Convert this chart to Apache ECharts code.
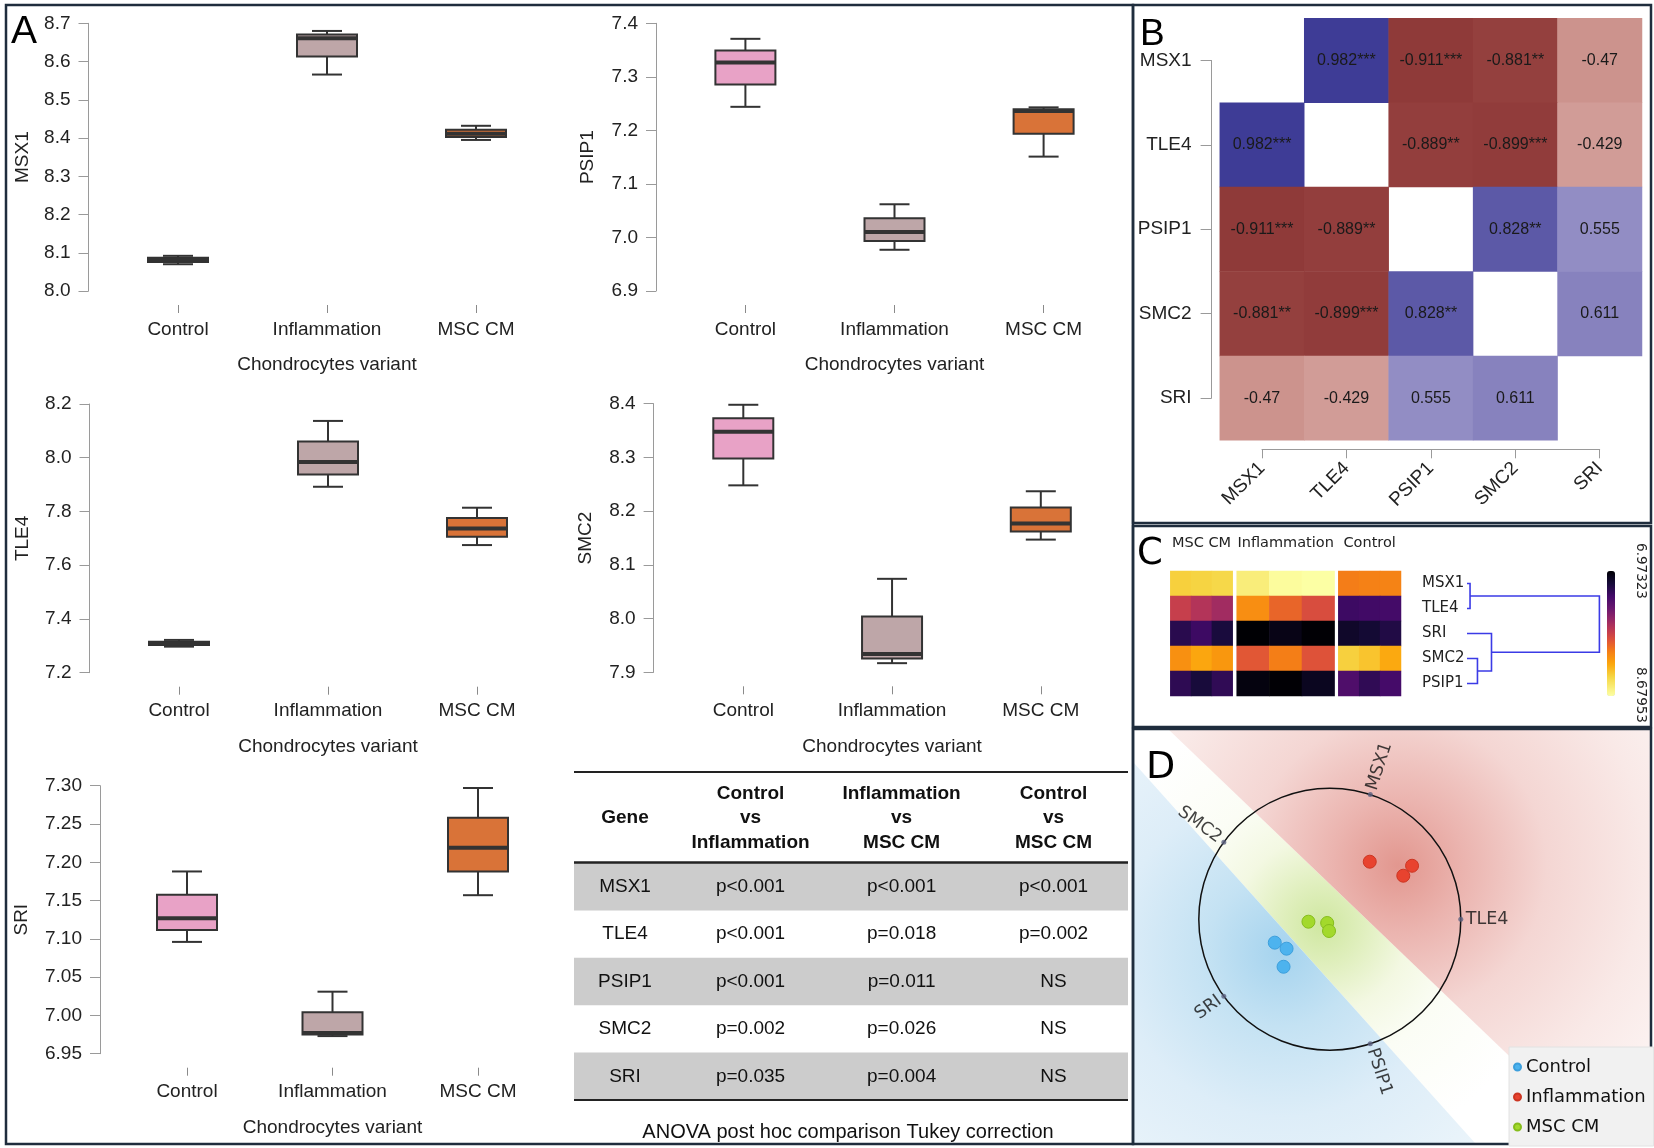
<!DOCTYPE html>
<html><head><meta charset="utf-8">
<script src="https://cdn.jsdelivr.net/npm/echarts@6/dist/echarts.min.js"></script>
<style>html,body{margin:0;padding:0;background:#fff}#c{width:1654px;height:1148px}</style>
</head><body><div id="c"></div>
<script>
// ---------------- DATA ----------------
const groups = ['Control', 'Inflammation', 'MSC CM'];
const genes = ['MSX1', 'TLE4', 'PSIP1', 'SMC2', 'SRI'];
// replicate expression values per gene: [Control, Inflammation, MSC CM] (panel C column order)
const MSX1 = [[8.070, 8.082, 8.092], [8.566, 8.661, 8.680], [8.395, 8.411, 8.432]];
const TLE4 = [[7.297, 7.309, 7.322], [8.137, 7.984, 7.892], [7.814, 7.737, 7.675]];
const PSIP1 = [[7.371, 7.244, 7.327], [7.010, 6.977, 7.062], [7.236, 7.151, 7.243]];
const SMC2 = [[8.398, 8.348, 8.248], [7.934, 8.074, 7.917], [8.147, 8.237, 8.177]];
const SRI = [[7.096, 7.127, 7.188], [6.973, 7.031, 6.977], [7.219, 7.297, 7.157]];
const expr = [MSX1, TLE4, PSIP1, SMC2, SRI];

// panel B: Pearson correlations
const corr = [
  [1, 0.982, -0.911, -0.881, -0.47],
  [0.982, 1, -0.889, -0.899, -0.429],
  [-0.911, -0.889, 1, 0.828, 0.555],
  [-0.881, -0.899, 0.828, 1, 0.611],
  [-0.47, -0.429, 0.555, 0.611, 1]
];
const corrStars = [
  ['', '***', '***', '**', ''],
  ['***', '', '**', '***', ''],
  ['***', '**', '', '**', ''],
  ['**', '***', '**', '', ''],
  ['', '', '', '', '']
];

// panel C: heatmap + dendrogram
const groupsC = ['MSC CM', 'Inflammation', 'Control'];
const dendroLeaves = ['MSX1', 'TLE4', 'SRI', 'SMC2', 'PSIP1'];
const dendroMerges = [[0, 1, 0.023], [3, 4, 0.079], [2, 6, 0.185], [5, 7, 1.0]];
const colorbarLabels = ['6.97323', '8.67953'];

// panel D: RadViz
const anchorAngles = [72, 0, 288, 144, 216]; // MSX1, TLE4, PSIP1, SMC2, SRI (degrees)
const radvizControl = [[-0.420, -0.179], [-0.330, -0.225], [-0.353, -0.363]];
const radvizInflammation = [[0.305, 0.439], [0.628, 0.408], [0.561, 0.332]];
const radvizMscCm = [[-0.163, -0.019], [-0.020, -0.029], [-0.006, -0.090]];

// table
const tableHeaders = ['Gene', 'Control\nvs\nInflammation', 'Inflammation\nvs\nMSC CM', 'Control\nvs\nMSC CM'];
const pControlInfl = ['p<0.001', 'p<0.001', 'p<0.001', 'p=0.002', 'p=0.035'];
const pInflMsc = ['p<0.001', 'p=0.018', 'p=0.011', 'p=0.026', 'p=0.004'];
const pControlMsc = ['p<0.001', 'p=0.002', 'NS', 'NS', 'NS'];
const tableCaption = 'ANOVA post hoc comparison Tukey correction';

// ---------------- STYLE / LAYOUT ----------------
const FA = 'Liberation Sans, Arial, sans-serif';
const FC = 'DejaVu Sans, Verdana, sans-serif';
const boxColors = ['#E8A2C6', '#BEA6A8', '#D97338'];
const inferno = ['#000004', '#160b39', '#420a68', '#6a176e', '#932667', '#bc3754', '#dd513a', '#f37819', '#fca50a', '#f6d746', '#fcffa4'];
// colour ramp used by the figure (inferno, slightly lifted in the upper half)
const rampWarp = [[0, 0], [0.3, 0.3], [0.65, 0.72], [0.85, 0.9], [1, 1]];
function warp(t) {
  for (let i = 1; i < rampWarp.length; i++) {
    const [a0, b0] = rampWarp[i - 1], [a1, b1] = rampWarp[i];
    if (t <= a1) return b0 + (t - a0) / (a1 - a0) * (b1 - b0);
  }
  return 1;
}
function hexRgb(h) { return [1, 3, 5].map(k => parseInt(h.slice(k, k + 2), 16)); }
function infernoAt(t) {
  const p = t * (inferno.length - 1), i = Math.min(Math.floor(p), inferno.length - 2), f = p - i;
  const a = hexRgb(inferno[i]), b = hexRgb(inferno[i + 1]);
  return 'rgb(' + a.map((v, k) => Math.round(v + (b[k] - v) * f)).join(',') + ')';
}
const cRamp = Array.from({ length: 41 }, (_, i) => infernoAt(warp(i / 40)));

const boxLayout = [
  { gene: 'MSX1', left: 178, right: 476, top: 23.3, bottom: 291, min: 8.0, max: 8.7, interval: 0.1, dec: 1, axisX: 88.5, nameX: 22.4 },
  { gene: 'PSIP1', left: 745.4, right: 1043.6, top: 23.3, bottom: 291, min: 6.9, max: 7.4, interval: 0.1, dec: 1, axisX: 656, nameX: 588 },
  { gene: 'TLE4', left: 179, right: 477, top: 404, bottom: 672.7, min: 7.2, max: 8.2, interval: 0.2, dec: 1, axisX: 89.5, nameX: 22.4 },
  { gene: 'SMC2', left: 743.3, right: 1040.8, top: 403.7, bottom: 672.3, min: 7.9, max: 8.4, interval: 0.1, dec: 1, axisX: 653.6, nameX: 586 },
  { gene: 'SRI', left: 187, right: 478, top: 785.7, bottom: 1053.7, min: 6.95, max: 7.30, interval: 0.05, dec: 2, axisX: 100, nameX: 22 }
];

function quantile(sorted, p) {
  const h = (sorted.length - 1) * p, lo = Math.floor(h), hi = Math.min(lo + 1, sorted.length - 1);
  return sorted[lo] + (h - lo) * (sorted[hi] - sorted[lo]);
}
function summary(arr) {
  const s = arr.slice().sort((a, b) => a - b);
  return [s[0], quantile(s, 0.25), quantile(s, 0.5), quantile(s, 0.75), s[s.length - 1]];
}
function renderBox(params, api) {
  const ci = api.value(0);
  const pMin = api.coord([ci, api.value(1)]), pQ1 = api.coord([ci, api.value(2)]);
  const pMed = api.coord([ci, api.value(3)]), pQ3 = api.coord([ci, api.value(4)]);
  const pMax = api.coord([ci, api.value(5)]);
  const cx = pMin[0], bw = 60, cw = 30, st = '#333';
  const ls = { stroke: st, lineWidth: 2 };
  return {
    type: 'group', children: [
      { type: 'line', shape: { x1: cx, y1: pMax[1], x2: cx, y2: pQ3[1] }, style: ls },
      { type: 'line', shape: { x1: cx, y1: pQ1[1], x2: cx, y2: pMin[1] }, style: ls },
      { type: 'line', shape: { x1: cx - cw / 2, y1: pMax[1], x2: cx + cw / 2, y2: pMax[1] }, style: ls },
      { type: 'line', shape: { x1: cx - cw / 2, y1: pMin[1], x2: cx + cw / 2, y2: pMin[1] }, style: ls },
      { type: 'rect', shape: { x: cx - bw / 2, y: pQ3[1], width: bw, height: pQ1[1] - pQ3[1] }, style: { fill: boxColors[ci], stroke: st, lineWidth: 2 } },
      { type: 'line', shape: { x1: cx - bw / 2, y1: pMed[1], x2: cx + bw / 2, y2: pMed[1] }, style: { stroke: st, lineWidth: 4 } }
    ]
  };
}

const grids = [], xAxes = [], yAxes = [], series = [];
function addGrid(g) { grids.push(Object.assign({ containLabel: false, outerBoundsMode: 'none' }, g)); return grids.length - 1; }

// ---- Panel A box plots ----
boxLayout.forEach(L => {
  const gi = addGrid({ left: L.left, top: L.top, width: L.right - L.left, height: L.bottom - L.top });
  const xi = xAxes.length, yi = yAxes.length;
  xAxes.push({
    gridIndex: gi, type: 'category', data: groups, boundaryGap: false, offset: 14,
    axisLine: { show: false }, axisTick: { show: true, interval: 0, length: 8, lineStyle: { color: '#8a8a8a' } },
    axisLabel: { interval: 0, fontSize: 19, color: '#222', margin: 15, fontFamily: FA },
    splitLine: { show: false }, name: 'Chondrocytes variant', nameLocation: 'middle', nameGap: 50.5,
    nameTextStyle: { fontSize: 19, color: '#222', fontFamily: FA }
  });
  yAxes.push({
    gridIndex: gi, type: 'value', min: L.min, max: L.max, interval: L.interval, offset: L.left - L.axisX,
    axisLine: { show: true, lineStyle: { color: '#9a9a9a', width: 1 } },
    axisTick: { show: true, length: 10, lineStyle: { color: '#9a9a9a' } },
    axisLabel: { fontSize: 19, color: '#222', margin: 18, fontFamily: FA, formatter: v => v.toFixed(L.dec) },
    splitLine: { show: false }, name: L.gene, nameLocation: 'middle', nameGap: L.axisX - L.nameX - 9.5,
    nameTextStyle: { fontSize: 19, color: '#222', fontFamily: FA }
  });
  const vals = expr[genes.indexOf(L.gene)];
  series.push({
    type: 'custom', xAxisIndex: xi, yAxisIndex: yi, renderItem: renderBox, z: 3,
    encode: { x: 0, y: [1, 2, 3, 4, 5] },
    data: vals.map((arr, ci) => [ci].concat(summary(arr)))
  });
});

// ---- Panel B correlation heatmap ----
let gi = addGrid({ left: 1219.8, top: 18.3, width: 422.2, height: 422 });
let xi = xAxes.length, yi = yAxes.length;
xAxes.push({ gridIndex: gi, type: 'category', data: genes, show: false });
yAxes.push({ gridIndex: gi, type: 'category', data: genes, inverse: true, show: false });
const heatB = [];
corr.forEach((row, i) => row.forEach((v, j) => { if (i !== j) heatB.push([j, i, v]); }));
const bHeatIdx = series.length;
series.push({
  type: 'heatmap', xAxisIndex: xi, yAxisIndex: yi, data: heatB, emphasis: { disabled: true },
  label: { show: true, fontSize: 16, color: '#1a1a1a', fontFamily: FA, formatter: p => String(p.value[2]) + corrStars[p.value[1]][p.value[0]] }
});
// y axis only (center-to-center bracket)
gi = addGrid({ left: 1211.6, top: 60.5, width: 1, height: 337.5 });
xAxes.push({ gridIndex: gi, type: 'value', show: false });
yAxes.push({
  gridIndex: gi, type: 'category', data: genes, inverse: true, boundaryGap: false,
  axisLine: { show: true, lineStyle: { color: '#9a9a9a' } }, axisTick: { show: true, interval: 0, length: 11, lineStyle: { color: '#9a9a9a' } },
  axisLabel: { interval: 0, fontSize: 19, color: '#222', margin: 20, fontFamily: FA }, splitLine: { show: false }
});
// x axis only
gi = addGrid({ left: 1262, top: 420, width: 337.7, height: 29.3 });
xAxes.push({
  gridIndex: gi, type: 'category', data: genes, boundaryGap: false,
  axisLine: { show: true, lineStyle: { color: '#9a9a9a' } }, axisTick: { show: true, interval: 0, length: 9, lineStyle: { color: '#9a9a9a' } },
  axisLabel: { interval: 0, rotate: 45, fontSize: 19, color: '#222', margin: 16, fontFamily: FA }, splitLine: { show: false }
});
yAxes.push({ gridIndex: gi, type: 'value', show: false });

// ---- Panel C expression heatmap ----
const groupCRect = [{ left: 1170.3, width: 62.4 }, { left: 1236.7, width: 97.9 }, { left: 1338.3, width: 62.7 }];
const cHeatIdx = [];
groupsC.forEach((g, k) => {
  const gg = addGrid({ left: groupCRect[k].left, width: groupCRect[k].width, top: 571, height: 125 });
  const xk = xAxes.length, yk = yAxes.length;
  xAxes.push({
    gridIndex: gg, type: 'category', data: ['1', '2', '3'], position: 'top',
    axisLine: { show: false }, axisTick: { show: false }, axisLabel: { show: false }, splitLine: { show: false },
    name: g, nameLocation: 'middle', nameGap: 20, nameTextStyle: { fontSize: 14.5, color: '#222', fontFamily: FC }
  });
  yAxes.push({ gridIndex: gg, type: 'category', data: dendroLeaves, inverse: true, show: false });
  const gIdx = groups.indexOf(g);
  const data = [];
  dendroLeaves.forEach((leaf, r) => {
    expr[genes.indexOf(leaf)][gIdx].forEach((v, c) => data.push([c, r, v]));
  });
  cHeatIdx.push(series.length);
  series.push({ type: 'heatmap', xAxisIndex: xk, yAxisIndex: yk, data, emphasis: { disabled: true } });
});
// dendrogram
const nodeY = dendroLeaves.map((_, i) => i), nodeH = dendroLeaves.map(() => 0);
const dendroItems = dendroMerges.map(([a, b, h]) => {
  const it = [h, nodeY[a], nodeY[b], nodeH[a], nodeH[b]];
  nodeY.push((nodeY[a] + nodeY[b]) / 2); nodeH.push(h);
  return it;
});
gi = addGrid({ left: 1467, top: 571, width: 132.4, height: 125 });
xi = xAxes.length; yi = yAxes.length;
xAxes.push({ gridIndex: gi, type: 'value', min: 0, max: 1, show: false });
yAxes.push({
  gridIndex: gi, type: 'category', data: dendroLeaves, inverse: true,
  axisLine: { show: false }, axisTick: { show: false }, splitLine: { show: false },
  axisLabel: { interval: 0, align: 'left', margin: 45, fontSize: 15, color: '#222', fontFamily: FC }
});
yAxes.push({ gridIndex: gi, type: 'value', min: -0.5, max: 4.5, inverse: true, show: false, position: 'right' });
series.push({
  type: 'custom', xAxisIndex: xi, yAxisIndex: yi + 1, data: dendroItems, z: 3,
  renderItem: (params, api) => {
    const h = api.value(0), yA = api.value(1), yB = api.value(2), hA = api.value(3), hB = api.value(4);
    return {
      type: 'polyline',
      shape: { points: [api.coord([hA, yA]), api.coord([h, yA]), api.coord([h, yB]), api.coord([hB, yB])] },
      style: { stroke: '#3B3BE6', lineWidth: 1.6, fill: null }
    };
  }
});

// ---- Panel D RadViz ----
gi = addGrid({ left: 1133.3, top: 722.7, width: 393, height: 393 });
xi = xAxes.length; yi = yAxes.length;
xAxes.push({ gridIndex: gi, type: 'value', min: -1.5, max: 1.5, show: false });
yAxes.push({ gridIndex: gi, type: 'value', min: -1.5, max: 1.5, show: false });
series.push({
  type: 'custom', xAxisIndex: xi, yAxisIndex: yi, data: [[0, 0]], z: 3,
  renderItem: (params, api) => {
    const c = api.coord([api.value(0), api.value(1)]);
    return { type: 'circle', shape: { cx: c[0], cy: c[1], r: api.size([1, 0])[0] }, style: { fill: null, stroke: '#111', lineWidth: 1.5 } };
  }
});
series.push({
  type: 'scatter', name: 'anchors', xAxisIndex: xi, yAxisIndex: yi, symbolSize: 5, z: 4,
  itemStyle: { color: '#5b6080' },
  data: genes.map((g, i) => {
    const a = anchorAngles[i], rad = a * Math.PI / 180, inward = a > 90 && a < 270;
    return {
      name: g, value: [Math.cos(rad), Math.sin(rad)],
      label: {
        show: true, formatter: '{b}', position: 'inside', align: inward ? 'right' : 'left', verticalAlign: 'middle',
        rotate: inward ? a - 180 : (a > 180 ? a - 360 : a), padding: inward ? [0, 5, 0, 0] : [0, 0, 0, 5],
        fontSize: 17.5, color: '#111', fontFamily: FC
      }
    };
  })
});
[['Control', radvizControl, '#4DB3EE', '#3C9FDC'], ['Inflammation', radvizInflammation, '#E8432F', '#CC3522'], ['MSC CM', radvizMscCm, '#A3D92C', '#86BD1C']].forEach(([n, d, c, b]) => {
  series.push({ type: 'scatter', name: n, xAxisIndex: xi, yAxisIndex: yi, data: d, symbolSize: 13, z: 5, itemStyle: { color: c, borderColor: b, borderWidth: 1, opacity: 1 } });
});

// ---------------- GRAPHICS (panel frames, letters, table, background) ----------------
const RG = (cx, cy, r, stops) => new echarts.graphic.RadialGradient(cx, cy, r, stops.map(([o, c]) => ({ offset: o, color: c })), true);
const graphic = [];
// panel D background regions (class shading)
graphic.push({ type: 'polygon', shape: { points: [[1134, 729], [1168, 729], [1600, 1143], [1475, 1143], [1134, 763]] }, style: { fill: RG(1322, 925, 230, [[0, '#CFE7A0'], [0.18, '#E0EFBE'], [0.38, '#F3F8E2'], [0.6, '#FBFDF5'], [1, '#FFFFFF']]) } });
graphic.push({ type: 'polygon', shape: { points: [[1168, 729], [1650, 729], [1650, 1143], [1600, 1143]] }, style: { fill: RG(1398, 866, 330, [[0, '#E2978F'], [0.2, '#EBB4AF'], [0.45, '#F4D6D3'], [0.75, '#F9E9E7'], [1, '#FCF4F3']]) } });
graphic.push({ type: 'polygon', shape: { points: [[1134, 763], [1475, 1143], [1134, 1143]] }, style: { fill: RG(1282, 952, 300, [[0, '#A5D3EE'], [0.25, '#C4E2F3'], [0.55, '#DDEDF8'], [1, '#EEF6FB']]) } });
// frames
const frame = { fill: null, stroke: '#1F2D3D', lineWidth: 2.5 };
graphic.push({ type: 'rect', shape: { x: 6, y: 5, width: 1127, height: 1139 }, style: frame });
graphic.push({ type: 'rect', shape: { x: 1133, y: 5, width: 518, height: 518 }, style: frame });
graphic.push({ type: 'rect', shape: { x: 1133, y: 526, width: 518, height: 201 }, style: frame });
graphic.push({ type: 'rect', shape: { x: 1133, y: 729, width: 518, height: 415 }, style: frame });
// letters
const letter = (t, x, y, f, s) => ({ type: 'text', style: { text: t, x, y, fill: '#000', fontSize: s, fontFamily: f, align: 'left', verticalAlign: 'middle' } });
graphic.push(letter('A', 11, 32, FA, 39), letter('B', 1140, 35, FA, 37), letter('C', 1137, 554, FC, 37), letter('D', 1146, 768, FC, 38));
// colour bar labels
graphic.push({ type: 'text', x: 1640, y: 571, rotation: -Math.PI / 2, style: { text: colorbarLabels[0], fontSize: 13.5, fontFamily: FC, fill: '#222', align: 'center', verticalAlign: 'middle' } });
graphic.push({ type: 'text', x: 1640, y: 695, rotation: -Math.PI / 2, style: { text: colorbarLabels[1], fontSize: 13.5, fontFamily: FC, fill: '#222', align: 'center', verticalAlign: 'middle' } });
// table
const tX0 = 574, tX1 = 1128, colX = [625, 750.5, 901.6, 1053.5], rowTop = 863, rowH = 47.4;
const tRows = genes.map((g, i) => [g, pControlInfl[i], pInflMsc[i], pControlMsc[i]]);
tRows.forEach((r, i) => {
  if (i % 2 === 0) graphic.push({ type: 'rect', shape: { x: tX0, y: rowTop + i * rowH, width: tX1 - tX0, height: rowH }, style: { fill: '#CCCCCC' } });
  r.forEach((t, c) => graphic.push({ type: 'text', style: { text: t, x: colX[c], y: rowTop + (i + 0.5) * rowH, fill: '#111', fontSize: 19, fontFamily: FA, align: 'center', verticalAlign: 'middle' } }));
});
tableHeaders.forEach((t, c) => graphic.push({ type: 'text', style: { text: t, x: colX[c], y: 818, fill: '#111', fontSize: 19, fontWeight: 'bold', fontFamily: FA, lineHeight: 24.5, align: 'center', verticalAlign: 'middle' } }));
graphic.push({ type: 'line', shape: { x1: tX0, y1: 772, x2: tX1, y2: 772 }, style: { stroke: '#222', lineWidth: 2 } });
graphic.push({ type: 'line', shape: { x1: tX0, y1: 862.5, x2: tX1, y2: 862.5 }, style: { stroke: '#222', lineWidth: 2.5 } });
graphic.push({ type: 'line', shape: { x1: tX0, y1: 1100, x2: tX1, y2: 1100 }, style: { stroke: '#222', lineWidth: 2 } });
graphic.push({ type: 'text', style: { text: tableCaption, x: 848, y: 1132, fill: '#111', fontSize: 20, fontFamily: FA, align: 'center', verticalAlign: 'middle' } });

const option = {
  animation: false,
  backgroundColor: '#ffffff',
  textStyle: { fontFamily: FA },
  grid: grids, xAxis: xAxes, yAxis: yAxes, series,
  visualMap: [
    { type: 'continuous', seriesIndex: bHeatIdx, min: -1, max: 1, show: false, inRange: { color: ['#832828', '#C98C86', '#FFFFFF', '#9D97CA', '#3A3994'] } },
    {
      type: 'continuous', seriesIndex: cHeatIdx, min: 6.97323, max: 8.67953, show: true, orient: 'vertical', inverse: true,
      left: 1607, top: 571, itemWidth: 8, itemHeight: 125, calculable: false, text: null, padding: 0, hoverLink: false,
      inRange: { color: cRamp }
    }
  ],
  legend: {
    data: ['Control', 'Inflammation', 'MSC CM'], orient: 'vertical', left: 1509, top: 1047, itemWidth: 7, itemHeight: 7, icon: 'circle',
    itemGap: 12, padding: [11, 8, 10, 4], backgroundColor: '#F1F1F1', borderColor: '#E2E2E2', borderWidth: 1, selectedMode: false,
    textStyle: { fontSize: 18, color: '#111', fontFamily: FC }
  },
  graphic: { elements: graphic }
};
const chart = echarts.init(document.getElementById('c'), null, { width: 1654, height: 1148 });
chart.setOption(option);
</script>
</body></html>
